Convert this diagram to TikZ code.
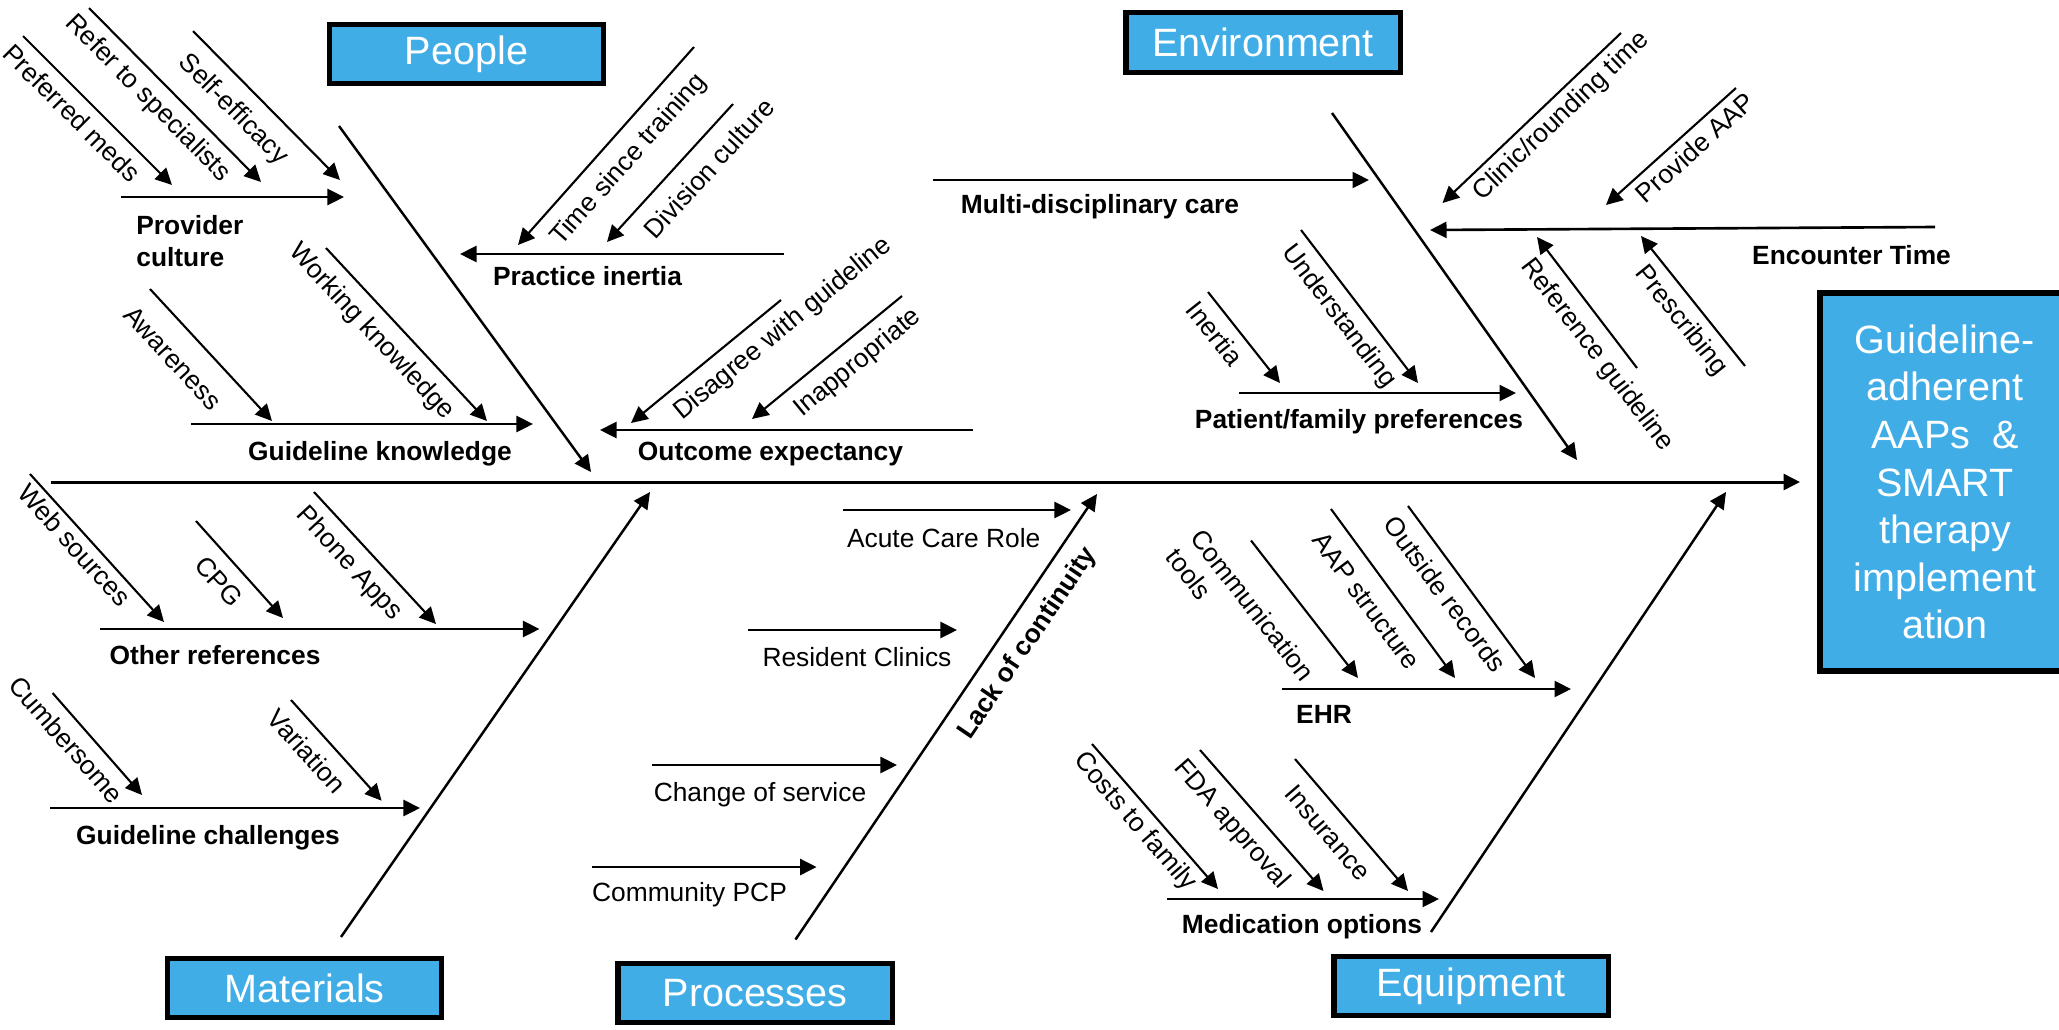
\documentclass[tikz,border=0pt]{standalone}
\usepackage{fontspec}
\setmainfont{Liberation Sans}
\usepackage{tikz}
\usepackage{xcolor}
\usetikzlibrary{arrows.meta, positioning}
\definecolor{cBlue}{RGB}{65,173,230}
\tikzset{
	catbox/.style ={rectangle, draw=black, line width=3.1pt, fill=cBlue, text=white, inner sep=0pt, minimum width=5.49cm, minimum height=1.19cm, font=\fontsize{22.5}{27.1}\selectfont},
	goalbox/.style={catbox, line width=3.4pt, minimum width=5cm, minimum height=7.56cm, align=center},
	% fishbone lines
	spine/.style  ={-{Triangle[length=9.4pt, width=9.1pt]}, line width=1.7pt},
	bone/.style   ={spine, line width=1.4pt},
	cause/.style  ={spine, line width=1.5pt},
	twig/.style   ={spine, line width=1.2pt},
	% labels
	clbl/.style   ={anchor=base, inner sep=0pt, font=\bfseries\fontsize{15}{18.2}\selectfont},
	slbl/.style   ={anchor=base, inner sep=0pt},
	tlbl/.style   ={inner sep=0pt},
}
\begin{document}
\begin{tikzpicture}[x=0.02cm, y=-0.02cm, font=\fontsize{15}{18}\selectfont]
	\useasboundingbox (0,0) rectangle (2059,1029);
	\node[catbox] (people) at (466.5,54) {People};
	\node[catbox] (envir) at (1263,42.5) {Environment};
	\node[catbox] (mater) at (304.5,988) {Materials};
	\node[catbox] (proc) at (755,993) {Processes};
	\node[catbox] (equip) at (1471,986) {Equipment};
	\node[goalbox] (goal) at (1945,482) {Guideline-\\adherent\\AAPs~~\&\\SMART\\therapy\\implement\\ation};
	\coordinate (tail) at (51,482);
	\draw[spine, shorten >=0.34cm] (tail) -- (goal.west);
	\coordinate (pb0) at (339,126); \coordinate (pb1) at (591,472);
	\coordinate (eb0) at (1332,113); \coordinate (eb1) at (1577,460);
	\coordinate (mb0) at (341,937); \coordinate (mb1) at (650,492);
	\coordinate (rb0) at (795.5,939.5); \coordinate (rb1) at (1097,494);
	\coordinate (qb0) at (1431,932); \coordinate (qb1) at (1726,492);
	\draw[bone] (pb0) -- (pb1);
	\draw[bone] (eb0) -- (eb1);
	\draw[bone] (mb0) -- (mb1);
	\draw[bone] (rb0) -- (rb1);
	\draw[bone] (qb0) -- (qb1);
	\coordinate (pc0) at (121,197); \coordinate (pc1) at (344,197);
	\draw[cause] (pc0) -- (pc1);
	\node[clbl, anchor=north west, align=left] (lpc) at (136,215) {Provider\\culture};
	\coordinate (pm0) at (23,36); \coordinate (pm1) at (172,185);
	\draw[twig] (pm0) -- (pm1);
	\node[tlbl, rotate=-45] (lpm) at (72,113) {Preferred meds};
	\coordinate (rs0) at (89,8); \coordinate (rs1) at (261,182);
	\draw[twig] (rs0) -- (rs1);
	\node[tlbl, rotate=-45.3] (lrs) at (147.5,98.5) {Refer to specialists};
	\coordinate (se0) at (193,31); \coordinate (se1) at (340,180);
	\draw[twig] (se0) -- (se1);
	\node[tlbl, rotate=-45.4] (lse) at (233,110) {Self-efficacy};
	\coordinate (gk0) at (191,424); \coordinate (gk1) at (533,424);
	\draw[cause] (gk0) -- (gk1);
	\node[clbl] (lgk) at (380,460) {Guideline knowledge};
	\coordinate (aw0) at (150,289); \coordinate (aw1) at (272,421);
	\draw[twig] (aw0) -- (aw1);
	\node[tlbl, rotate=-47.3] (law) at (173,358) {Awareness};
	\coordinate (wk0) at (326,248); \coordinate (wk1) at (487,421);
	\draw[twig] (wk0) -- (wk1);
	\node[tlbl, rotate=-47] (lwk) at (371.5,332) {Working knowledge};
	\coordinate (pi0) at (784,254); \coordinate (pi1) at (460,254);
	\draw[cause] (pi0) -- (pi1);
	\node[clbl] (lpi) at (587.5,285) {Practice inertia};
	\coordinate (ts0) at (694,47); \coordinate (ts1) at (518,245);
	\draw[twig] (ts0) -- (ts1);
	\node[tlbl, rotate=48.4] (lts) at (629,160) {Time since training};
	\coordinate (dc0) at (733,104); \coordinate (dc1) at (607,242);
	\draw[twig] (dc0) -- (dc1);
	\node[tlbl, rotate=47.6] (ldc) at (709,168) {Division culture};
	\coordinate (oe0) at (973,430); \coordinate (oe1) at (600,430);
	\draw[cause] (oe0) -- (oe1);
	\node[clbl] (loe) at (770.5,460) {Outcome expectancy};
	\coordinate (dg0) at (781,300); \coordinate (dg1) at (631,423);
	\draw[twig] (dg0) -- (dg1);
	\node[tlbl, rotate=39.4] (ldg) at (783,329) {Disagree with guideline};
	\coordinate (ia0) at (902,296); \coordinate (ia1) at (752,419);
	\draw[twig] (ia0) -- (ia1);
	\node[tlbl, rotate=39.4] (lia) at (858,363) {Inappropriate};
	\coordinate (md0) at (933,180); \coordinate (md1) at (1369,180);
	\draw[cause] (md0) -- (md1);
	\node[clbl] (lmd) at (1100,213) {Multi-disciplinary care};
	\coordinate (cr0) at (1621,33); \coordinate (cr1) at (1442.5,203);
	\draw[twig] (cr0) -- (cr1);
	\node[tlbl, rotate=43.6] (lcr) at (1561.5,116.5) {Clinic/rounding time};
	\coordinate (pa0) at (1736,88); \coordinate (pa1) at (1606,205);
	\draw[twig] (pa0) -- (pa1);
	\node[tlbl, rotate=42] (lpa) at (1695,147.5) {Provide AAP};
	\coordinate (et0) at (1935,227); \coordinate (et1) at (1430,230);
	\draw[cause] (et0) -- (et1);
	\node[clbl] (let) at (1851.5,264) {Encounter Time};
	\coordinate (rg0) at (1637,368); \coordinate (rg1) at (1537,237);
	\draw[twig] (rg0) -- (rg1);
	\node[tlbl, rotate=-52.6] (lrg) at (1597,355) {Reference guideline};
	\coordinate (pr0) at (1745,366); \coordinate (pr1) at (1641,236);
	\draw[twig] (pr0) -- (pr1);
	\node[tlbl, rotate=-51.3] (lpr) at (1681,321) {Prescribing};
	\coordinate (pf0) at (1239,393); \coordinate (pf1) at (1516,393);
	\draw[cause] (pf0) -- (pf1);
	\node[clbl] (lpf) at (1359,428) {Patient/family preferences};
	\coordinate (in0) at (1208,292); \coordinate (in1) at (1280,383);
	\draw[twig] (in0) -- (in1);
	\node[tlbl, rotate=-51.6] (lin) at (1215,333.5) {Inertia};
	\coordinate (un0) at (1301,230); \coordinate (un1) at (1418,383);
	\draw[twig] (un0) -- (un1);
	\node[tlbl, rotate=-52.6] (lun) at (1338.5,316.5) {Understanding};
	\coordinate (or0) at (100,629); \coordinate (or1) at (539.5,629);
	\draw[cause] (or0) -- (or1);
	\node[clbl] (lor) at (215,664) {Other references};
	\coordinate (ws0) at (30,474); \coordinate (ws1) at (164,622);
	\draw[twig] (ws0) -- (ws1);
	\node[tlbl, rotate=-47.8] (lws) at (74.5,545) {Web sources};
	\coordinate (cg0) at (196,521); \coordinate (cg1) at (283,618);
	\draw[twig] (cg0) -- (cg1);
	\node[tlbl, rotate=-48] (lcg) at (219,581.5) {CPG};
	\coordinate (ph0) at (314,492); \coordinate (ph1) at (436,624);
	\draw[twig] (ph0) -- (ph1);
	\node[tlbl, rotate=-47.2] (lph) at (349,564) {Phone Apps};
	\coordinate (gc0) at (50,808); \coordinate (gc1) at (420,808);
	\draw[cause] (gc0) -- (gc1);
	\node[clbl] (lgc) at (208,844) {Guideline challenges};
	\coordinate (cu0) at (52.6,693); \coordinate (cu1) at (142,795);
	\draw[twig] (cu0) -- (cu1);
	\node[tlbl, rotate=-48.7] (lcu) at (66.5,739.5) {Cumbersome};
	\coordinate (va0) at (291,700); \coordinate (va1) at (381.6,800.7);
	\draw[twig] (va0) -- (va1);
	\node[tlbl, rotate=-48] (lva) at (307,751) {Variation};
	\coordinate (ac0) at (843,510); \coordinate (ac1) at (1071,510);
	\draw[cause] (ac0) -- (ac1);
	\node[slbl] (lac) at (943.7,547.7) {Acute Care Role};
	\coordinate (rc0) at (747.5,630); \coordinate (rc1) at (957,630);
	\draw[cause] (rc0) -- (rc1);
	\node[slbl] (lrc) at (857,666) {Resident Clinics};
	\coordinate (cs0) at (652,765); \coordinate (cs1) at (897,765);
	\draw[cause] (cs0) -- (cs1);
	\node[slbl] (lcs) at (760,801) {Change of service};
	\coordinate (cm0) at (592,867); \coordinate (cm1) at (816.6,867);
	\draw[cause] (cm0) -- (cm1);
	\node[slbl] (lcm) at (689.5,901) {Community PCP};
	\node[clbl, anchor=center, rotate=55.9] (llc) at (1027.7,643.8) {Lack of continuity};
	\coordinate (eh0) at (1282,689); \coordinate (eh1) at (1571,689);
	\draw[cause] (eh0) -- (eh1);
	\node[clbl] (leh) at (1324,723) {EHR};
	\coordinate (ct0) at (1251,540.5); \coordinate (ct1) at (1358,678);
	\draw[twig] (ct0) -- (ct1);
	\node[tlbl, rotate=-52, align=left, font=\fontsize{15}{17.6}\selectfont] (lct) at (1240.7,614.5) {Communication\\tools};
	\coordinate (as0) at (1331,509); \coordinate (as1) at (1455,678);
	\draw[twig] (as0) -- (as1);
	\node[tlbl, rotate=-53.6] (las) at (1366.6,601) {AAP structure};
	\coordinate (os0) at (1408,506); \coordinate (os1) at (1535,678);
	\draw[twig] (os0) -- (os1);
	\node[tlbl, rotate=-53.6] (los) at (1445.5,594) {Outside records};
	\coordinate (mo0) at (1167,899); \coordinate (mo1) at (1439,899);
	\draw[cause] (mo0) -- (mo1);
	\node[clbl] (lmo) at (1302,933) {Medication options};
	\coordinate (cf0) at (1092,744); \coordinate (cf1) at (1218,889);
	\draw[twig] (cf0) -- (cf1);
	\node[tlbl, rotate=-49.3] (lcf) at (1134.5,822) {Costs to family};
	\coordinate (fa0) at (1200,750); \coordinate (fa1) at (1323.5,891);
	\draw[twig] (fa0) -- (fa1);
	\node[tlbl, rotate=-48.8] (lfa) at (1231.5,824.5) {FDA approval};
	\coordinate (is0) at (1295,759); \coordinate (is1) at (1408,891);
	\draw[twig] (is0) -- (is1);
	\node[tlbl, rotate=-49.4] (lis) at (1328,832.5) {Insurance};
\end{tikzpicture}
\end{document}
